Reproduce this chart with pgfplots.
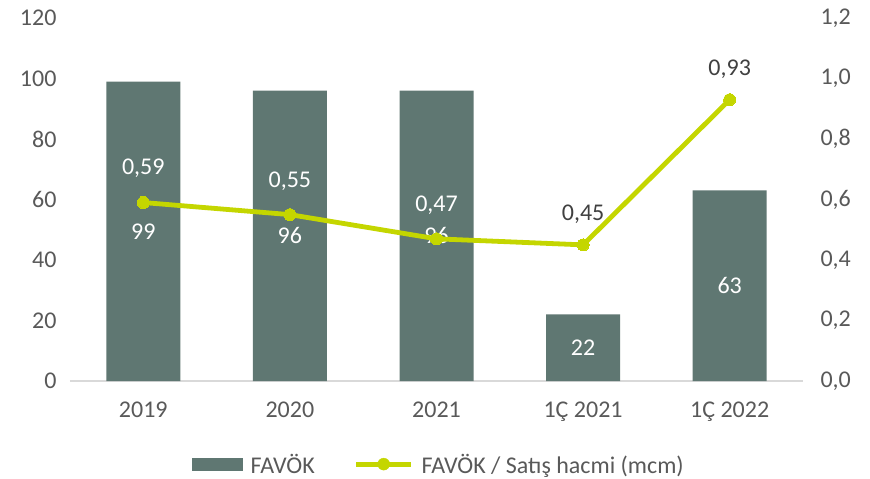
\documentclass[border=0pt]{standalone}
\usepackage{fontspec}
\setmainfont{Carlito}
\usepackage{pgfplots}
\pgfplotsset{compat=1.18}
\definecolor{barcol}{RGB}{95,119,114}
\definecolor{linecol}{RGB}{196,214,0}
\definecolor{txt}{RGB}{89,89,89}
\definecolor{dtxt}{RGB}{64,64,64}
\definecolor{axl}{RGB}{217,217,217}
\begin{document}
\begin{tikzpicture}[font=\fontsize{24}{29}\selectfont]
\useasboundingbox (-70pt,-98pt) rectangle (800pt,381pt);
\begin{axis}[
  at={(0,0)}, anchor=south west,
  scale only axis, width=733pt, height=363pt,
  xmin=-0.5, xmax=4.5, ymin=0, ymax=120,
  xtick=data, xticklabels={2019,2020,2021,1Ç 2021,1Ç 2022},
  ytick={0,20,...,120},
  major tick length=0pt,
  axis y line*=left, axis x line*=bottom,
  y axis line style={draw=none},
  x axis line style={draw=axl, line width=1.2pt, -},
  tick label style={text=txt},
  yticklabel style={xshift=-10pt},
  xticklabel style={yshift=-17pt},
  /pgf/number format/assume math mode=true,
  legend columns=2,
  legend style={draw=none, fill=none, at={(0.503,-0.229)}, anchor=center, text=txt,
    /tikz/every even column/.append style={column sep=37pt},
    /tikz/every odd column/.append style={column sep=6pt}},
]
\addplot[ybar, bar width=74pt, fill=barcol, draw=none,
  nodes near coords,
  visualization depends on={rawy \as \ry},
  every node near coord/.append style={text=white, anchor=center, yshift=-1.5125*\ry},
  legend image code/.code={\fill[barcol] (0pt,-6.5pt) rectangle (51pt,6.5pt);}]
  coordinates {(0,99) (1,96) (2,96) (3,22) (4,63)};
\addlegendentry{FAVÖK}
\addlegendimage{legend image code/.code={\draw[linecol, line width=4.8pt] (0pt,0pt) -- (55pt,0pt); \fill[linecol] (27.5pt,0pt) circle (6pt);}}
\addlegendentry{FAVÖK / Satış hacmi (mcm)}
\end{axis}
\begin{axis}[
  at={(0,0)}, anchor=south west,
  scale only axis, width=733pt, height=363pt,
  xmin=-0.5, xmax=4.5, ymin=0, ymax=1.2,
  ytick={0,0.2,...,1.2},
  xtick=\empty,
  major tick length=0pt,
  axis y line*=right, axis x line=none,
  y axis line style={draw=none},
  tick label style={text=txt},
  yticklabel style={xshift=14pt},
  /pgf/number format/assume math mode=true,
  yticklabel={\pgfmathprintnumber[fixed,fixed zerofill,precision=1,use comma]{\tick}},
]
\addplot[linecol, line width=4.8pt, mark=*, mark size=6pt, mark options={fill=linecol, draw=linecol, line width=0pt}]
  coordinates {(0,0.59) (1,0.55) (2,0.47) (3,0.45) (4,0.93)};
\addplot[draw=none, mark=none, nodes near coords,
  every node near coord/.append style={text=white, anchor=south, yshift=21pt},
  /pgf/number format/.cd, fixed, fixed zerofill, precision=2, use comma, assume math mode=true]
  coordinates {(0,0.59) (1,0.55) (2,0.47)};
\addplot[draw=none, mark=none, nodes near coords,
  every node near coord/.append style={text=dtxt, anchor=south, yshift=18pt},
  /pgf/number format/.cd, fixed, fixed zerofill, precision=2, use comma, assume math mode=true]
  coordinates {(3,0.45) (4,0.93)};
\end{axis}
\end{tikzpicture}
\end{document}
